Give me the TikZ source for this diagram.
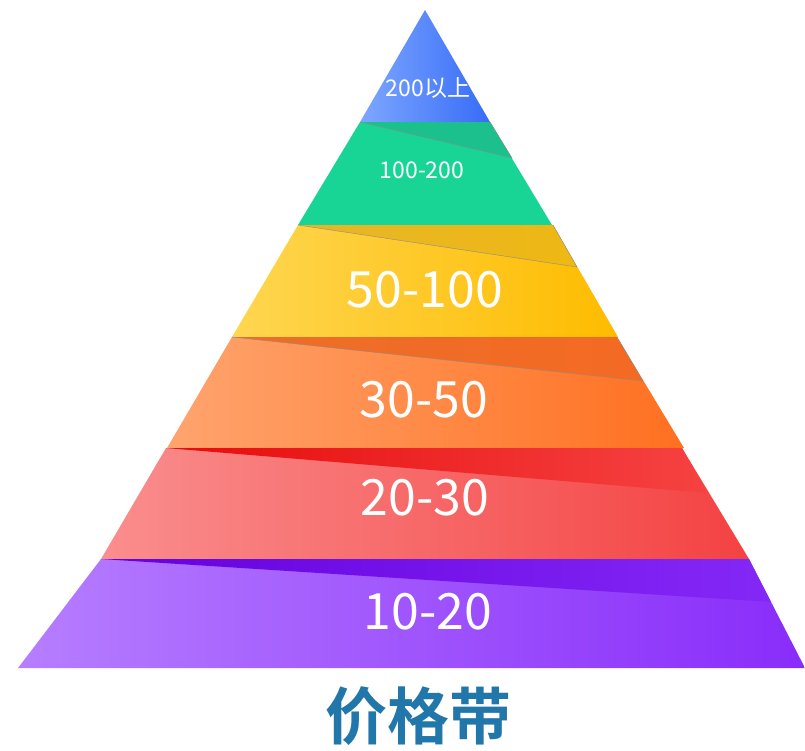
\documentclass[tikz,border=0pt]{standalone}
\usepackage{fontspec}
\newfontfamily\cjk{Noto Sans CJK SC}
\newfontfamily\cjkbold{Noto Sans CJK SC Bold}
\definecolor{titleblue}{HTML}{2177AA}
\definecolor{blueL}{RGB}{125,167,255}
\definecolor{blueR}{RGB}{55,108,247}
\definecolor{greenM}{RGB}{24,213,150}
\definecolor{greenS}{RGB}{28,192,140}
\definecolor{yelL}{RGB}{254,214,80}
\definecolor{yelR}{RGB}{254,188,0}
\definecolor{yelSL}{RGB}{230,182,40}
\definecolor{yelSR}{RGB}{238,184,20}
\definecolor{orL}{RGB}{255,164,110}
\definecolor{orR}{RGB}{255,112,32}
\definecolor{orSL}{RGB}{236,110,40}
\definecolor{orSR}{RGB}{244,106,36}
\definecolor{redL}{RGB}{250,142,142}
\definecolor{redR}{RGB}{244,66,66}
\definecolor{redSL}{RGB}{230,12,12}
\definecolor{redSR}{RGB}{246,66,66}
\definecolor{purL}{RGB}{182,126,255}
\definecolor{purR}{RGB}{137,44,250}
\definecolor{purSL}{RGB}{100,0,222}
\definecolor{purSR}{RGB}{132,40,246}
\begin{document}
\begin{tikzpicture}[x=1pt,y=-1pt,
  lbl/.style={text=white,font=\cjk\fontsize{50}{50}\selectfont,inner sep=0pt},
  lblsmall/.style={text=white,font=\cjk\fontsize{23}{23}\selectfont,inner sep=0pt},
  shadeedge/.style={draw=black!45,line width=0.4pt}]
\useasboundingbox (0,0) rectangle (805,750);
% layer 1 blue
\shade[left color=blueL,right color=blueR]
  (425,10) -- (490,122) -- (360,122) -- cycle;
% layer 2 green
\fill[greenM] (360,122) -- (490,122) -- (552,225) -- (298,225) -- cycle;
\fill[greenS] (360,122) -- (490,122) -- (512,158) -- cycle;
\draw[shadeedge] (360,122) -- (512,158) -- (490,122);
% layer 3 yellow
\shade[left color=yelL,right color=yelR]
  (298,225) -- (553,225) -- (618,337) -- (232,337) -- cycle;
\shade[left color=yelSL,right color=yelSR]
  (298,225) -- (553,225) -- (577,267) -- cycle;
\draw[shadeedge] (298,225) -- (577,267) -- (553,225);
% layer 4 orange
\shade[left color=orL,right color=orR]
  (232,337) -- (617,337) -- (684,448) -- (167,448) -- cycle;
\shade[left color=orSL,right color=orSR]
  (232,337) -- (617,337) -- (643,381) -- cycle;
\draw[shadeedge] (232,337) -- (643,381) -- (617,337);
% layer 5 red
\shade[left color=redL,right color=redR]
  (166,448) -- (682,448) -- (749,559) -- (101,559) -- cycle;
\shade[left color=redSL,right color=redSR]
  (166,448) -- (682,448) -- (708,493) -- cycle;
% layer 6 purple
\shade[left color=purL,right color=purR]
  (101,559) -- (749,559) -- (805,668) -- (18,668) -- cycle;
\shade[left color=purSL,right color=purSR]
  (101,559) -- (749,559) -- (771,602) -- cycle;
% labels
\node[lblsmall] (l1) at (428,88) {200以上};
\node[lblsmall] (l2) at (422,170) {100-200};
\node[lbl] (l3) at (425,290) {50-100};
\node[lbl] (l4) at (424,400) {30-50};
\node[lbl] (l5) at (425,498) {20-30};
\node[lbl] (l6) at (428,612) {10-20};
\node[text=titleblue,font=\cjkbold\fontsize{62}{62}\selectfont,inner sep=0pt] (title) at (418,716) {价格带};
\end{tikzpicture}
\end{document}
